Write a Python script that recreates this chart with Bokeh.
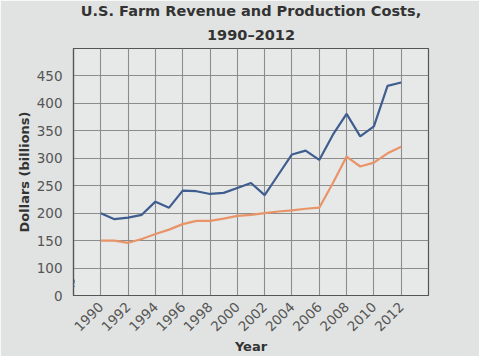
import math
from bokeh.plotting import figure
from bokeh.models import FixedTicker, Range1d, Title
from bokeh.core.properties import value
from bokeh.embed import file_html
from bokeh.resources import INLINE

years = list(range(1990, 2013))
revenue = [200, 189, 192, 197, 221, 210, 241, 240, 235, 237, 246, 255, 233, 270, 307, 314, 297, 343, 381, 340, 358, 432, 438]
costs = [150, 150, 146, 153, 162, 170, 180, 186, 186, 190, 195, 197, 200, 203, 205, 208, 210, 255, 303, 285, 292, 309, 321]

x_ticks = list(range(1990, 2013, 2))
y_ticks = [50, 100, 150, 200, 250, 300, 350, 400, 450]
y_labels = {50: "0", 100: "100", 150: "150", 200: "200", 250: "250", 300: "300", 350: "350", 400: "400", 450: "450"}

title_line1 = "U.S. Farm Revenue and Production Costs,"
title_line2 = "1990\u20132012"

FONT = "DejaVu Sans"

p = figure(width=479, height=356, output_backend="svg", toolbar_location=None,
           x_range=Range1d(1988, 2014), y_range=Range1d(50, 500),
           min_border_left=73, min_border_right=51, min_border_top=48, min_border_bottom=60)

p.background_fill_color = "#e7e9e8"
p.border_fill_color = "#e1e3e2"
p.outline_line_color = "#555555"
p.outline_line_width = 1.2

for txt, standoff in ((title_line2, 12), (title_line1, 0)):
    t = Title(text=txt, align="center", text_font=FONT, text_font_size="14.5px",
              text_font_style="bold", text_color="#333333", standoff=standoff,
              text_line_height=1.0)
    p.add_layout(t, "above")

p.xaxis.ticker = FixedTicker(ticks=x_ticks)
p.yaxis.ticker = FixedTicker(ticks=y_ticks)
p.yaxis.major_label_overrides = y_labels
p.xaxis.major_label_orientation = math.pi / 4

for ax in (p.xaxis, p.yaxis):
    ax.major_tick_line_color = None
    ax.minor_tick_line_color = None
    ax.axis_line_color = "#555555"
    ax.axis_line_width = 1.2
    ax.major_label_text_font = FONT
    ax.major_label_text_font_size = "13.5px"
    ax.major_label_text_color = "#555555"
    ax.axis_label_text_font = FONT
    ax.axis_label_text_font_size = "13px"
    ax.axis_label_text_font_style = "bold"
    ax.axis_label_text_color = "#333333"

p.xaxis.axis_label = "Year"
p.yaxis.axis_label = "Dollars (billions)"
p.yaxis.major_label_standoff = 5
p.yaxis.axis_label_standoff = 2
p.xaxis.major_label_standoff = 3
p.xaxis.axis_label_standoff = 0

p.xgrid.grid_line_color = "#8c8c8c"
p.ygrid.grid_line_color = "#8c8c8c"
p.xgrid.grid_line_width = 1.1
p.ygrid.grid_line_width = 1.1

p.line(years, revenue, line_color="#3f5d8e", line_width=2.2)
p.line(years, costs, line_color="#e99468", line_width=2.2)

# axis-break mark on the y axis between 0 and 100
p.text(x=[1988], y=[73], text=["\u2240"], text_align="center", text_baseline="middle",
       text_font=value(FONT), text_font_size="13px", text_color="#555555")

open("out.html", "w").write(file_html(p, INLINE))
